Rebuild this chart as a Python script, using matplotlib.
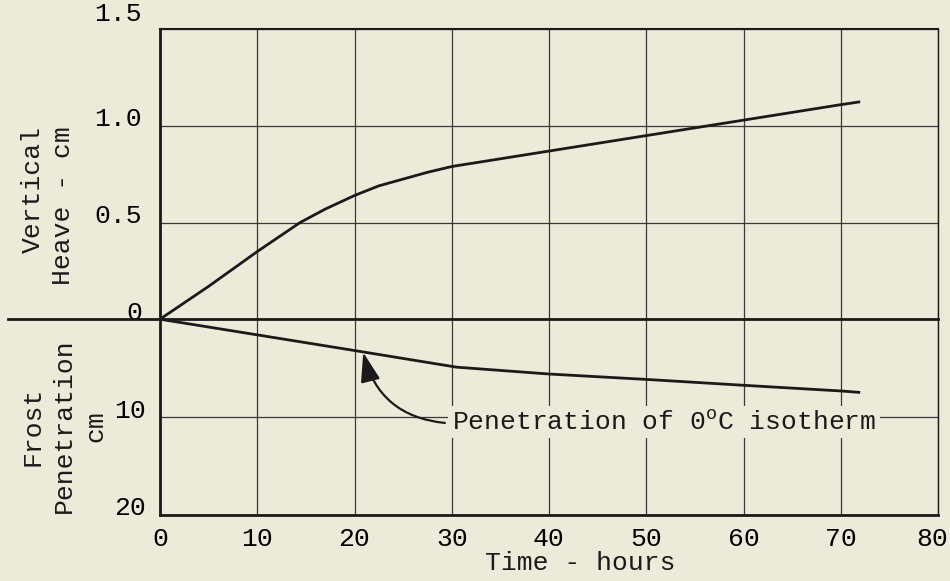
import matplotlib.pyplot as plt
import matplotlib.transforms as mtransforms
from matplotlib.patches import FancyArrowPatch

# heave curve (cm) vs time (hours)
heave_hours = [0, 5, 10, 14.4, 17, 20, 22.5, 25, 27.5, 30, 40, 50, 60, 70, 72]
heave_cm = [0, 0.17, 0.35, 0.50, 0.57, 0.64, 0.69, 0.725, 0.76, 0.79, 0.87, 0.95, 1.03, 1.11, 1.125]

# frost penetration (0 C isotherm) depth (cm)
frost_hours = [0, 10, 20, 30.5, 40, 50, 60, 70, 72]
frost_cm = [0, 1.6, 3.2, 4.9, 5.6, 6.15, 6.75, 7.33, 7.48]

x_ticks = [0, 10, 20, 30, 40, 50, 60, 70, 80]
heave_ticks = [0, 0.5, 1.0, 1.5]
heave_labels = ["0", "0.5", "1.0", "1.5"]
frost_ticks = [10, 20]
frost_labels = ["10", "20"]

bg = "#ecead9"
ink = "#1a1a1a"
font = "Liberation Mono"
fs = 19

plt.rcParams["font.family"] = [font, "DejaVu Sans Mono"]
plt.rcParams["mathtext.fontset"] = "custom"
plt.rcParams["mathtext.rm"] = font

fig = plt.figure(figsize=(9.5, 5.81), dpi=100, facecolor=bg)
W, H = 950, 581
x0, x1 = 160, 938
y_top, y_zero, y_bot = 29.3, 319.2, 515

ax1 = fig.add_axes([x0 / W, 1 - y_zero / H, (x1 - x0) / W, (y_zero - y_top) / H])
ax2 = fig.add_axes([x0 / W, 1 - y_bot / H, (x1 - x0) / W, (y_bot - y_zero) / H])

for ax in (ax1, ax2):
    ax.set_facecolor(bg)
    ax.set_xlim(0, 80)
    ax.set_xticks(x_ticks)
    ax.tick_params(length=0)
    ax.grid(True, color="#3a3a3a", lw=0.9)
    ax.set_axisbelow(True)
    for s in ax.spines.values():
        s.set_color(ink)

ax1.set_ylim(0, 1.5)
ax1.set_yticks(heave_ticks)
ax1.set_yticklabels(heave_labels, fontsize=fs)
ax1.set_xticklabels([])
ax1.spines["bottom"].set_visible(False)
ax1.spines["left"].set_linewidth(2)
ax1.spines["top"].set_linewidth(1.5)
ax1.spines["right"].set_linewidth(1)
ax1.tick_params(axis="y", pad=13)

ax2.set_ylim(20, 0)
ax2.set_yticks(frost_ticks)
ax2.set_yticklabels(frost_labels, fontsize=fs)
ax2.set_xticklabels([str(t) for t in x_ticks], fontsize=fs)
ax2.spines["top"].set_visible(False)
ax2.spines["left"].set_linewidth(2)
ax2.spines["bottom"].set_linewidth(2)
ax2.spines["right"].set_linewidth(1)
ax2.tick_params(axis="y", pad=10)
ax2.tick_params(axis="x", pad=9)

# move y tick labels up a little, as in the original
up = mtransforms.ScaledTranslation(0, 6.5 / 72, fig.dpi_scale_trans)
for ax in (ax1, ax2):
    for lbl in ax.get_yticklabels():
        lbl.set_transform(lbl.get_transform() + up)
top_lbl = ax1.get_yticklabels()[-1]
top_lbl.set_transform(top_lbl.get_transform() + mtransforms.ScaledTranslation(0, 6 / 72, fig.dpi_scale_trans))
last_x = ax2.get_xticklabels()[-1]
last_x.set_transform(last_x.get_transform() + mtransforms.ScaledTranslation(-4 / 72, 0, fig.dpi_scale_trans))

# zero line, drawn across and out to the left
fig.add_artist(plt.Line2D([8 / W, x1 / W], [1 - y_zero / H] * 2, color=ink, lw=2))

ax1.plot(heave_hours, heave_cm, color=ink, lw=2, solid_capstyle="butt")
ax2.plot(frost_hours, frost_cm, color=ink, lw=2, solid_capstyle="butt")

ax2.text(30.0, 10.5, r"Penetration of 0$^\mathrm{o}$C isotherm", fontsize=fs, color=ink,
         ha="left", va="center", bbox=dict(boxstyle="square,pad=0.15", fc=bg, ec="none"))
arrow = FancyArrowPatch((29.3, 10.6), (20.9, 3.4), arrowstyle="-|>,head_length=0.9,head_width=0.3",
                        connectionstyle="arc3,rad=-0.35", color=ink, lw=1.6,
                        shrinkA=0, shrinkB=0, mutation_scale=20)
ax2.add_patch(arrow)

fig.text(580 / W, 1 - 563 / H, "Time - hours", fontsize=fs, ha="center", va="center", color=ink)
fig.text(48 / W, 1 - 126 / H, "Vertical\nHeave - cm", fontsize=fs, rotation=90,
         ha="center", va="top", multialignment="right", color=ink, linespacing=1.3)
fig.text(64 / W, 1 - 426 / H, "Frost\nPenetration\ncm", fontsize=fs, rotation=90,
         ha="center", va="center", multialignment="center", color=ink, linespacing=1.4)

fig.savefig("out.png", dpi=100, facecolor=bg)
